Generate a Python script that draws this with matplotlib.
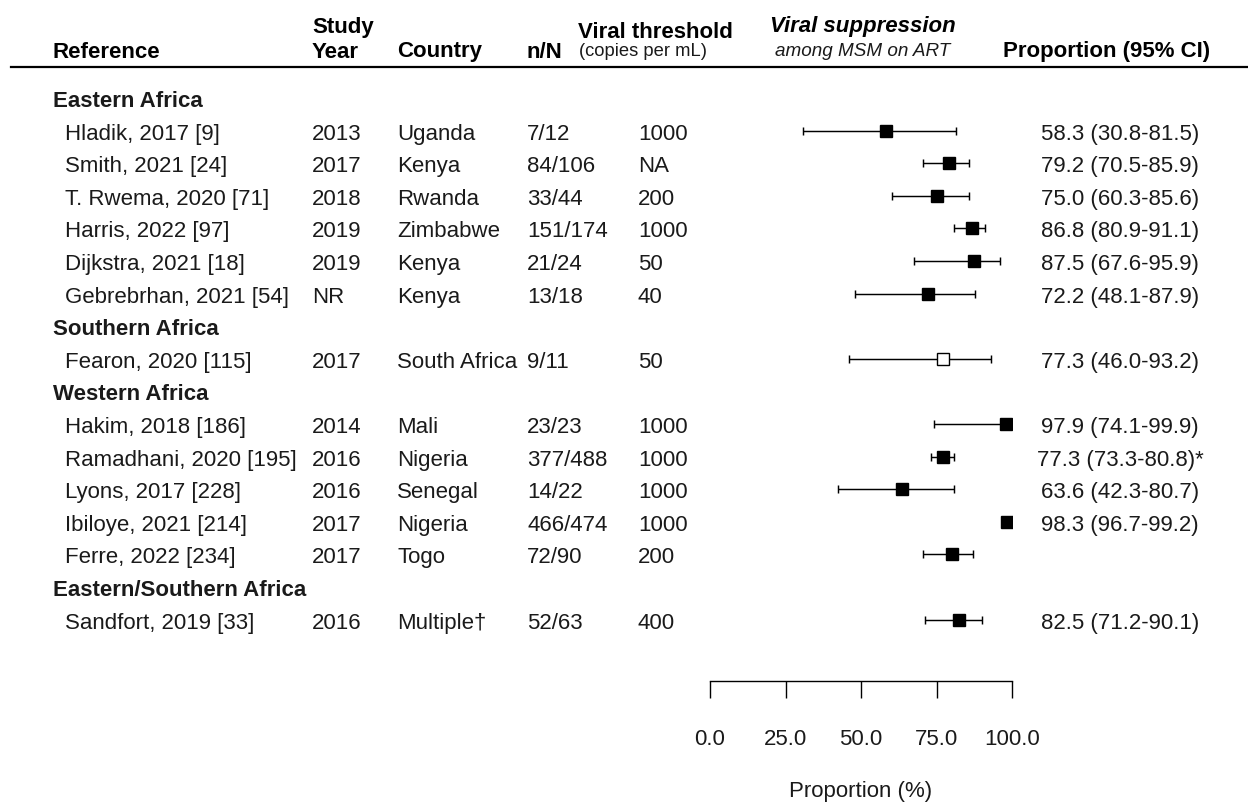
import matplotlib
matplotlib.use("Agg")
import matplotlib.pyplot as plt
from matplotlib.transforms import blended_transform_factory, ScaledTranslation
from matplotlib.lines import Line2D

plt.rcParams["font.family"] = ["Liberation Sans", "DejaVu Sans"]

# ---------------- data ----------------
group_names = ["Eastern Africa", "Southern Africa", "Western Africa", "Eastern/Southern Africa"]
study_group = [0, 0, 0, 0, 0, 0, 1, 2, 2, 2, 2, 2, 3]
references = ["Hladik, 2017 [9]", "Smith, 2021 [24]", "T. Rwema, 2020 [71]", "Harris, 2022 [97]",
              "Dijkstra, 2021 [18]", "Gebrebrhan, 2021 [54]", "Fearon, 2020 [115]",
              "Hakim, 2018 [186]", "Ramadhani, 2020 [195]", "Lyons, 2017 [228]",
              "Ibiloye, 2021 [214]", "Ferre, 2022 [234]", "Sandfort, 2019 [33]"]
study_years = ["2013", "2017", "2018", "2019", "2019", "NR", "2017",
               "2014", "2016", "2016", "2017", "2017", "2016"]
countries = ["Uganda", "Kenya", "Rwanda", "Zimbabwe", "Kenya", "Kenya", "South Africa",
             "Mali", "Nigeria", "Senegal", "Nigeria", "Togo", "Multiple\u2020"]
n_over_N = ["7/12", "84/106", "33/44", "151/174", "21/24", "13/18", "9/11",
            "23/23", "377/488", "14/22", "466/474", "72/90", "52/63"]
thresholds = ["1000", "NA", "200", "1000", "50", "40", "50",
              "1000", "1000", "1000", "1000", "200", "400"]
proportion = [58.3, 79.2, 75.0, 86.8, 87.5, 72.2, 77.3, 97.9, 77.3, 63.6, 98.3, 80.0, 82.5]
ci_low = [30.8, 70.5, 60.3, 80.9, 67.6, 48.1, 46.0, 74.1, 73.3, 42.3, 96.7, 70.6, 71.2]
ci_high = [81.5, 85.9, 85.6, 91.1, 95.9, 87.9, 93.2, 99.9, 80.8, 80.7, 99.2, 87.0, 90.1]
ci_labels = ["58.3 (30.8-81.5)", "79.2 (70.5-85.9)", "75.0 (60.3-85.6)", "86.8 (80.9-91.1)",
             "87.5 (67.6-95.9)", "72.2 (48.1-87.9)", "77.3 (46.0-93.2)", "97.9 (74.1-99.9)",
             "77.3 (73.3-80.8)*", "63.6 (42.3-80.7)", "98.3 (96.7-99.2)", "", "82.5 (71.2-90.1)"]
hollow = [False, False, False, False, False, False, True, False, False, False, False, False, False]
x_ticks = [0, 25, 50, 75, 100]
x_tick_labels = ["0.0", "25.0", "50.0", "75.0", "100.0"]

# ---------------- layout ----------------
W, H, DPI = 1248, 803, 100
FS = 16
fig = plt.figure(figsize=(W / DPI, H / DPI), dpi=DPI)

row0_px, row_step = 99.0, 32.6
ax_left_px, ax_right_px = 710, 1012
ax_top_px, ax_bot_px = 67, 682
ax = fig.add_axes([ax_left_px / W, 1 - ax_bot_px / H,
                   (ax_right_px - ax_left_px) / W, (ax_bot_px - ax_top_px) / H])
ax.set_xlim(0, 100)
ax.set_ylim((ax_bot_px - row0_px) / row_step, (ax_top_px - row0_px) / row_step)

# row assignment
group_rows, study_rows = [], []
r = 0
last_g = None
for g in study_group:
    if g != last_g:
        group_rows.append(r)
        r += 1
        last_g = g
    study_rows.append(r)
    r += 1

# forest marks
for i in range(len(proportion)):
    y = study_rows[i]
    ax.errorbar(proportion[i], y, xerr=[[proportion[i] - ci_low[i]], [ci_high[i] - proportion[i]]],
                fmt="none", ecolor="black", elinewidth=1.05, capsize=2.7, capthick=1.05, zorder=2)
    ax.plot(proportion[i], y, marker="s", markersize=8.4, markeredgewidth=1.0,
            markeredgecolor="black", markerfacecolor="white" if hollow[i] else "black",
            linestyle="none", zorder=3)

for s in ["left", "right", "top"]:
    ax.spines[s].set_visible(False)
ax.spines["bottom"].set_linewidth(1.0)
ax.set_yticks([])
ax.set_xticks(x_ticks)
ax.set_xticklabels(x_tick_labels, fontsize=FS, color="#1a1a1a")
ax.tick_params(axis="x", direction="out", length=12.2, width=1.0, pad=22)
ax.set_xlabel("Proportion (%)", fontsize=FS, labelpad=22, color="#1a1a1a")
ax.patch.set_visible(False)

# table text
trans = blended_transform_factory(fig.transFigure, ax.transData) + \
    ScaledTranslation(0, -8.0 / DPI, fig.dpi_scale_trans)
col = lambda px: px / W
txt = dict(transform=trans, fontsize=FS, va="baseline", color="#1a1a1a", clip_on=False)

for gi, rr in enumerate(group_rows):
    fig.text(col(53), rr, group_names[gi], fontweight="bold", **txt)
for i, rr in enumerate(study_rows):
    fig.text(col(65), rr, references[i], **txt)
    fig.text(col(312), rr, study_years[i], **txt)
    fig.text(col(397), rr, countries[i], **txt)
    fig.text(col(527), rr, n_over_N[i], **txt)
    fig.text(col(638), rr, thresholds[i], **txt)
    fig.text(col(1120), rr, ci_labels[i], ha="center", **txt)

# headers
def hy(px):
    return 1 - px / H

hdr = dict(fontsize=FS, fontweight="bold", va="baseline", color="black")
fig.text(col(53), hy(57.5), "Reference", **hdr)
fig.text(col(312), hy(32.5), "Study", **hdr)
fig.text(col(312), hy(57.5), "Year", **hdr)
fig.text(col(397), hy(57.5), "Country", **hdr)
fig.text(col(527), hy(57.5), "n/N", **hdr)
fig.text(col(578), hy(38.5), "Viral threshold", **hdr)
fig.text(col(579), hy(56), "(copies per mL)", fontsize=13.2, va="baseline", color="#1a1a1a")
tsup = blended_transform_factory(ax.transData, fig.transFigure)
fig.text(50.5, hy(32), "Viral suppression", transform=tsup, ha="center", fontsize=FS,
         fontweight="bold", fontstyle="italic", va="baseline", color="black")
fig.text(50.5, hy(56), "among MSM on ART", transform=tsup, ha="center", fontsize=13.6,
         fontstyle="italic", va="baseline", color="#1a1a1a")
fig.text(col(1003), hy(57.5), "Proportion (95% CI)", **hdr)

fig.add_artist(Line2D([11 / W, 1.0], [hy(67.7), hy(67.7)], transform=fig.transFigure,
                      color="black", linewidth=1.6))

fig.savefig("out.png", dpi=DPI)
